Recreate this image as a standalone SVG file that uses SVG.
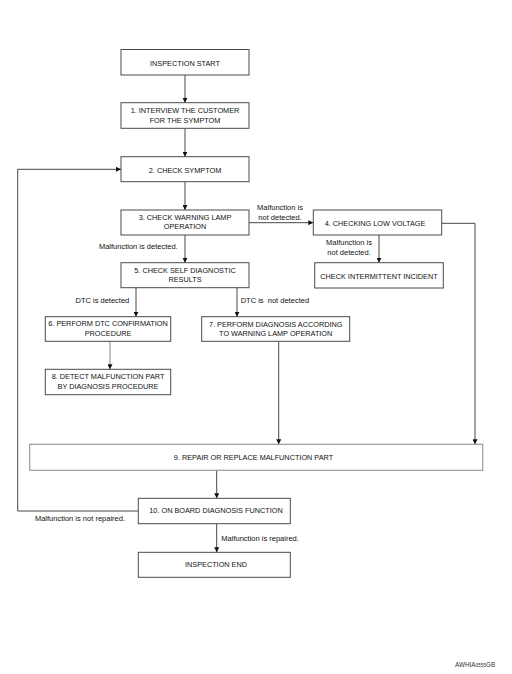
<svg xmlns="http://www.w3.org/2000/svg" width="512" height="674" viewBox="0 0 512 674">
<style>
.box{fill:#fff;stroke:#4a4a4a;stroke-width:1}
.box9{fill:#fff;stroke:#9a9a9a;stroke-width:1.2}
.t{font-family:"Liberation Sans",Arial,sans-serif;font-size:7.3px;fill:#111;text-anchor:middle}
.l{font-family:"Liberation Sans",Arial,sans-serif;font-size:7.5px;fill:#111}
.c{fill:none;stroke:#333;stroke-width:0.9}
.g{fill:none;stroke:#888;stroke-width:1}
.wm{font-family:"Liberation Sans",Arial,sans-serif;font-size:6.3px;fill:#333}
</style>
<defs>
<marker id="ah" viewBox="0 0 6 6" refX="6" refY="3" markerWidth="5" markerHeight="5" markerUnits="userSpaceOnUse" orient="auto">
<path d="M0,0 L6,3 L0,6 Z" fill="#111"/>
</marker>
</defs>
<rect width="512" height="674" fill="#fff"/>
<g id="connectors">
<path class="c" d="M185,75 V102.7" marker-end="url(#ah)"/>
<path class="c" d="M185,128.3 V156.7" marker-end="url(#ah)"/>
<path class="c" d="M185,181.7 V210" marker-end="url(#ah)"/>
<path class="c" d="M249,222.7 H313.3" marker-end="url(#ah)"/>
<path class="c" d="M441.7,223.3 H475 V444.3" marker-end="url(#ah)"/>
<path class="c" d="M379,235 V262.7" marker-end="url(#ah)"/>
<path class="c" d="M185,235 V262.7" marker-end="url(#ah)"/>
<path class="c" d="M136,287.7 V316.7" marker-end="url(#ah)"/>
<path class="c" d="M237,287.7 V316.7" marker-end="url(#ah)"/>
<path class="g" d="M110,341.3 V369.3" marker-end="url(#ah)"/>
<path class="c" d="M278.7,341.3 V444.3" marker-end="url(#ah)"/>
<path class="c" d="M216.7,470.3 V498.3" marker-end="url(#ah)"/>
<path class="c" d="M216.7,523.7 V552.3" marker-end="url(#ah)"/>
<path class="c" d="M138.3,511 H17.7 V169.3 H121" marker-end="url(#ah)"/>
<text class="l" x="280" y="210" text-anchor="middle">Malfunction is</text>
<text class="l" x="280" y="219.7" text-anchor="middle">not detected.</text>
<text class="l" x="177.7" y="249.4" text-anchor="end">Malfunction is detected.</text>
<text class="l" x="349" y="245.4" text-anchor="middle">Malfunction is</text>
<text class="l" x="349" y="255" text-anchor="middle">not detected.</text>
<text class="l" x="129.3" y="302.7" text-anchor="end">DTC is detected</text>
<text class="l" x="240.7" y="302.7" style="white-space:pre" xml:space="preserve">DTC is  not detected</text>
<text class="l" x="125" y="520.7" text-anchor="end">Malfunction is not repaired.</text>
<text class="l" x="221.3" y="540.7">Malfunction is repaired.</text>
</g>
<g id="start"><rect class="box" x="121" y="49.5" width="128" height="25.5"/><text class="t" x="185" y="65.8">INSPECTION START</text></g>
<g id="n1"><rect class="box" x="121" y="102.7" width="128" height="25.6"/><text class="t" x="185" y="113.3">1. INTERVIEW THE CUSTOMER</text><text class="t" x="185" y="122.9">FOR THE SYMPTOM</text></g>
<g id="n2"><rect class="box" x="121" y="156.7" width="128" height="25"/><text class="t" x="185" y="172.9">2. CHECK SYMPTOM</text></g>
<g id="n3"><rect class="box" x="121" y="210" width="128" height="25"/><text class="t" x="185" y="219.9">3. CHECK WARNING LAMP</text><text class="t" x="185" y="229.3">OPERATION</text></g>
<g id="n4"><rect class="box" x="313.3" y="210" width="128.4" height="25"/><text class="t" x="375" y="225.6">4. CHECKING LOW VOLTAGE</text></g>
<g id="n5"><rect class="box" x="121" y="262.7" width="128" height="25"/><text class="t" x="185" y="272.6">5. CHECK SELF DIAGNOSTIC</text><text class="t" x="185" y="281.9">RESULTS</text></g>
<g id="intermittent"><rect class="box" x="314.7" y="262.7" width="128.6" height="25.3"/><text class="t" x="379" y="278.9">CHECK INTERMITTENT INCIDENT</text></g>
<g id="n6"><rect class="box" x="45.3" y="316.7" width="125.4" height="24.6"/><text class="t" x="108" y="326.3">6. PERFORM DTC CONFIRMATION</text><text class="t" x="108" y="335.6">PROCEDURE</text></g>
<g id="n7"><rect class="box" x="201.7" y="316.7" width="148" height="24.6"/><text class="t" x="275.7" y="326.9">7. PERFORM DIAGNOSIS ACCORDING</text><text class="t" x="275.7" y="336.3">TO WARNING LAMP OPERATION</text></g>
<g id="n8"><rect class="box" x="45.3" y="369.3" width="125.4" height="25.4"/><text class="t" x="108" y="379.3">8. DETECT MALFUNCTION PART</text><text class="t" x="108" y="388.6">BY DIAGNOSIS PROCEDURE</text></g>
<g id="n9"><rect class="box9" x="29.7" y="444.3" width="453" height="26"/><text class="t" x="253.5" y="459.6">9. REPAIR OR REPLACE MALFUNCTION PART</text></g>
<g id="n10"><rect class="box" x="138.3" y="498.3" width="152" height="25.4"/><text class="t" x="216" y="512.9">10. ON BOARD DIAGNOSIS FUNCTION</text></g>
<g id="end"><rect class="box" x="138.3" y="552.3" width="152" height="25"/><text class="t" x="216" y="566.9">INSPECTION END</text></g>
<text class="wm" x="455" y="667">AWHIA<tspan style="font-size:4.8px">0555</tspan>GB</text>
</svg>
